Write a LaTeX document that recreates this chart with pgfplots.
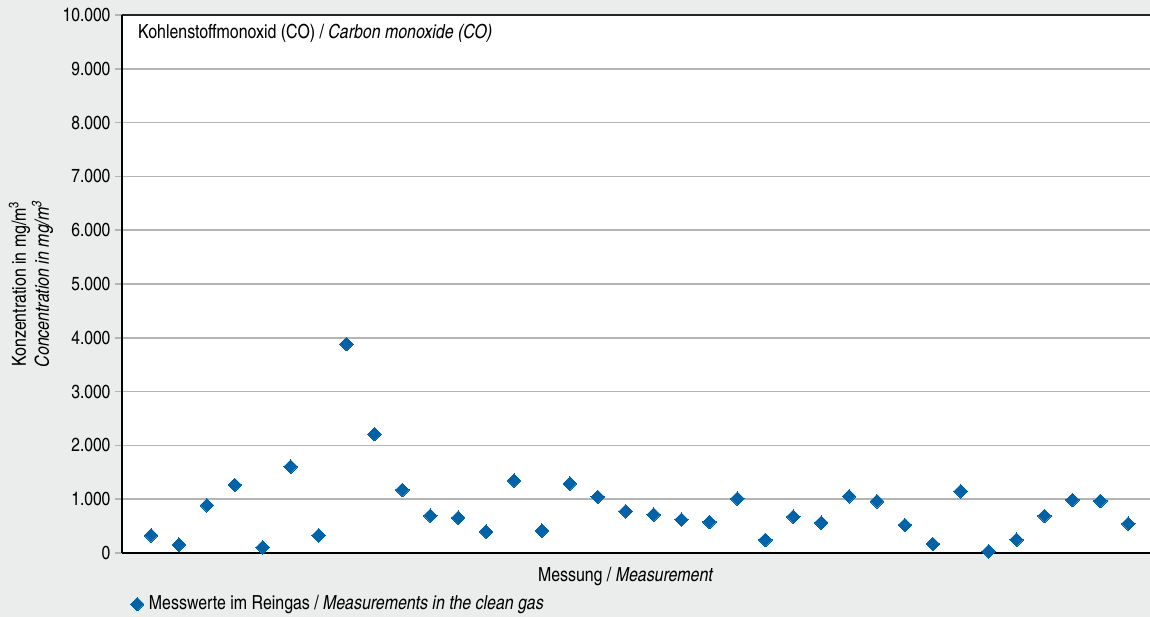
\documentclass[border=0pt]{standalone}
\usepackage{pgfplots}
\pgfplotsset{compat=1.18}
\usepackage{fontspec}
\setmainfont{texgyreheroscn}[Extension=.otf,UprightFont=*-regular,ItalicFont=*-italic,BoldFont=*-bold,BoldItalicFont=*-bolditalic]
\definecolor{bg}{RGB}{235,236,236}
\definecolor{mk}{RGB}{0,99,168}
\definecolor{gridc}{RGB}{180,180,180}
\begin{document}
\fontsize{19.4}{23}\selectfont
\begin{tikzpicture}
\fill[bg] (0,0) rectangle (1150pt,617pt);
\useasboundingbox (0,0) rectangle (1150pt,617pt);
\begin{axis}[
  at={(122pt,64pt)}, anchor=south west,
  scale only axis, width=1028pt, height=538pt,
  xmin=-0.04, xmax=36.78, ymin=0, ymax=10000,
  axis background/.style={fill=white},
  axis line style={draw=none},
  xtick=\empty,
  ytick={0,1000,...,10000},
  ytick pos=left, tick align=outside, major tick length=7pt,
  every tick/.style={gridc, line width=1.5pt},
  ymajorgrids, grid style={gridc, line width=1.5pt},
  scaled y ticks=false,
  yticklabel style={xshift=2pt},
  yticklabel={\pgfmathprintnumber[fixed,1000 sep={.},assume math mode=true]{\tick}},
  tick label style={font=\fontsize{19}{23}\selectfont},
  clip=false,
  legend style={at={(rel axis cs:0.008,-0.095)}, anchor=west, draw=none, fill=none,
    font=\fontsize{19.4}{23}\selectfont, inner sep=0pt, column sep=3pt},
  legend cell align=left,
]
\draw[black!85, line width=2pt] (rel axis cs:0,1) -- (rel axis cs:1,1);
\draw[black, line width=2pt] (rel axis cs:0,0) -- (rel axis cs:1,0);
\draw[black, line width=2pt] (rel axis cs:0,0) -- (rel axis cs:0,1);
\addplot[only marks, mark=square*, mark size=4.8pt, mark options={rotate=45, fill=mk, draw=mk, line width=0pt}]
coordinates {
(1,329) (2,154) (3,888) (4,1266) (5,106) (6,1606) (7,329) (8,3884) (9,2209) (10,1172)
(11,694) (12,657) (13,397) (14,1346) (15,415) (16,1290) (17,1042) (18,776) (19,713) (20,620)
(21,577) (22,1011) (23,242) (24,676) (25,564) (26,1055) (27,962) (28,521) (29,168) (30,1148)
(31,32) (32,248) (33,689) (34,986) (35,968) (36,545)
};
\addlegendentry{Messwerte im Reingas / \textit{Measurements in the clean gas}}
\node[anchor=west, inner sep=0pt] at (rel axis cs:0.0156,0.9665) {Kohlenstoffmonoxid (CO) / \textit{Carbon monoxide (CO)}};
\node[inner sep=0pt] at (rel axis cs:0.490,-0.0428) {Messung / \textit{Measurement}};
\node[rotate=90, align=center, inner sep=0pt] at (rel axis cs:-0.0885,0.5) {Konzentration in mg/m\textsuperscript{3}\\\textit{Concentration in mg/m\textsuperscript{3}}};
\end{axis}
\end{tikzpicture}
\end{document}
